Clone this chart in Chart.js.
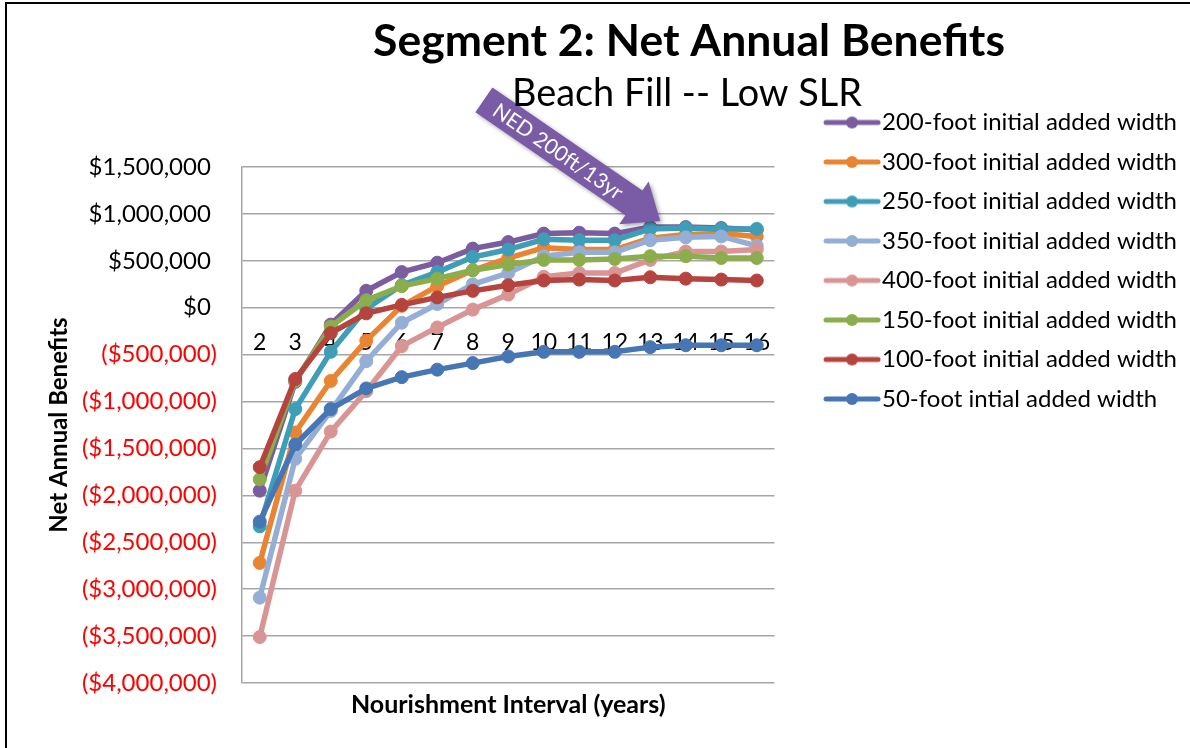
<!DOCTYPE html>
<html>
<head>
<meta charset="utf-8">
<script src="https://cdn.jsdelivr.net/npm/chart.js@4.4.1/dist/chart.umd.min.js"></script>
<style>
  html, body { margin: 0; padding: 0; background: #fff; }
  #frame { position: absolute; left: 5px; top: 2px; width: 1200px; height: 760px; border-left: 2px solid #000; border-top: 2px solid #000; }
  #wrap { position: absolute; left: 0; top: 0; width: 1190px; height: 748px; }
</style>
</head>
<body>
<div id="frame"></div>
<div id="wrap"><canvas id="chart"></canvas></div>
<script>
// nourishment interval (years)
const years = ['2', '3', '4', '5', '6', '7', '8', '9', '10', '11', '12', '13', '14', '15', '16'];

// net annual benefits ($) per initial added width
const ft200 = [-1950000, -790000, -180000, 180000, 380000, 480000, 630000, 700000, 790000, 800000, 790000, 860000, 860000, 850000, 830000];
const ft300 = [-2720000, -1330000, -780000, -350000, 20000, 230000, 400000, 530000, 640000, 620000, 620000, 740000, 780000, 790000, 760000];
const ft250 = [-2330000, -1080000, -470000, -10000, 240000, 380000, 540000, 620000, 730000, 720000, 720000, 840000, 850000, 840000, 840000];
const ft350 = [-3090000, -1610000, -1100000, -570000, -160000, 40000, 250000, 370000, 550000, 590000, 590000, 720000, 750000, 760000, 660000];
const ft400 = [-3510000, -1950000, -1320000, -890000, -410000, -210000, -20000, 140000, 330000, 370000, 370000, 510000, 600000, 600000, 620000];
const ft150 = [-1830000, -780000, -200000, 80000, 230000, 310000, 400000, 460000, 510000, 510000, 520000, 550000, 550000, 530000, 530000];
const ft100 = [-1700000, -760000, -270000, -60000, 30000, 110000, 180000, 240000, 290000, 300000, 290000, 325000, 310000, 300000, 290000];
const ft50 = [-2280000, -1460000, -1080000, -860000, -740000, -660000, -590000, -520000, -470000, -470000, -470000, -420000, -400000, -400000, -400000];

const yTicks = { min: -4000000, max: 1500000, step: 500000 };

const FONT = 'Lato';

// excel draws the last series on top, chart.js draws the first on top -> list reversed
const series = [
  { label: '50-foot intial added width', data: ft50, color: '#4677B4' },
  { label: '100-foot initial added width', data: ft100, color: '#B5443F' },
  { label: '150-foot initial added width', data: ft150, color: '#8CAD4B' },
  { label: '400-foot initial added width', data: ft400, color: '#D99594' },
  { label: '350-foot initial added width', data: ft350, color: '#94AED6' },
  { label: '250-foot initial added width', data: ft250, color: '#3E9EB8' },
  { label: '300-foot initial added width', data: ft300, color: '#E98532' },
  { label: '200-foot initial added width', data: ft200, color: '#7A5C9F' }
];

// legend swatch: short line with a dot in the middle
function makeSwatch(color) {
  const c = document.createElement('canvas');
  c.width = 110; c.height = 14;
  const g = c.getContext('2d');
  g.strokeStyle = color; g.lineWidth = 5; g.lineCap = 'round';
  g.beginPath(); g.moveTo(51, 7); g.lineTo(103, 7); g.stroke();
  g.fillStyle = color;
  g.beginPath(); g.arc(77, 7, 6, 0, Math.PI * 2); g.fill();
  return c;
}
const swatches = series.map(s => makeSwatch(s.color));

function money(v) {
  const s = '$' + Math.abs(v).toLocaleString('en-US');
  return v < 0 ? '(' + s + ')' : s + ' ';
}

function fitSize(ctx, text, weight, target) {
  ctx.font = weight + ' 40px ' + FONT;
  return 40 * target / ctx.measureText(text).width;
}

const headline = {
  id: 'headline',
  afterDraw(chart) {
    const ctx = chart.ctx;
    const xs = chart.scales.x, ys = chart.scales.y;

    // NED arrow pointing at the 200ft / 13yr point
    const i13 = years.indexOf('13');
    const tipX = xs.getPixelForValue(i13) + 10;
    const tipY = ys.getPixelForValue(ft200[i13]) - 6;
    const L = 214, body = 15, headHalf = 26, headLen = 32;
    ctx.save();
    ctx.translate(tipX, tipY);
    ctx.rotate(34.5 * Math.PI / 180);
    ctx.shadowColor = 'rgba(0,0,0,0.35)';
    ctx.shadowBlur = 4;
    ctx.shadowOffsetX = 2;
    ctx.shadowOffsetY = 2;
    ctx.fillStyle = '#7A5BA6';
    ctx.beginPath();
    ctx.moveTo(-L, -body);
    ctx.lineTo(-headLen, -body);
    ctx.lineTo(-headLen, -headHalf);
    ctx.lineTo(0, 0);
    ctx.lineTo(-headLen, headHalf);
    ctx.lineTo(-headLen, body);
    ctx.lineTo(-L, body);
    ctx.closePath();
    ctx.fill();
    ctx.shadowColor = 'transparent';
    ctx.fillStyle = '#fff';
    ctx.font = '21px ' + FONT;
    ctx.textAlign = 'left';
    ctx.textBaseline = 'middle';
    ctx.fillText('NED 200ft/13yr', -L + 14, 1);
    ctx.restore();

    // titles
    ctx.save();
    ctx.fillStyle = '#000';
    ctx.textAlign = 'center';
    ctx.textBaseline = 'alphabetic';
    const t1 = 'Segment 2: Net Annual Benefits';
    ctx.font = 'bold ' + fitSize(ctx, t1, 'bold', 632) + 'px ' + FONT;
    ctx.fillText(t1, 689, 56);
    const t2 = 'Beach Fill -- Low SLR';
    ctx.font = fitSize(ctx, t2, 'normal', 350) + 'px ' + FONT;
    ctx.fillText(t2, 687, 106);
    ctx.restore();
  }
};

new Chart(document.getElementById('chart'), {
  type: 'line',
  data: {
    labels: years,
    datasets: series.map(s => ({
      label: s.label,
      data: s.data,
      borderColor: s.color,
      backgroundColor: s.color,
      borderWidth: 5.5,
      pointRadius: 6.5,
      pointBackgroundColor: s.color,
      pointBorderColor: s.color,
      pointBorderWidth: 1,
      tension: 0,
      fill: false
    }))
  },
  options: {
    responsive: true,
    maintainAspectRatio: false,
    animation: false,
    events: [],
    layout: { padding: { left: 45, top: 95, right: 3, bottom: 0 } },
    scales: {
      x: {
        type: 'category',
        position: { y: 0 },
        offset: true,
        grid: { display: false, drawTicks: false },
        border: { display: false },
        ticks: { color: '#000', font: { family: FONT, size: 23 }, padding: 21, autoSkip: false, maxRotation: 0 },
        afterFit(s) { s.height = 0; }
      },
      xTop: {
        type: 'category',
        position: 'top',
        grid: { display: false },
        border: { display: false },
        ticks: { display: false },
        afterFit(s) { s.height = 72; }
      },
      y: {
        min: yTicks.min,
        max: yTicks.max,
        grid: { color: '#A6A6A6', lineWidth: 1.5, drawTicks: false },
        border: { color: '#A6A6A6', width: 1.5 },
        ticks: {
          stepSize: yTicks.step,
          padding: 25,
          font: { family: FONT, size: 24 },
          color: c => (c.tick && c.tick.value < 0 ? '#FF0000' : '#000'),
          callback: v => money(v)
        },
        title: {
          display: true,
          text: 'Net Annual Benefits',
          color: '#000',
          font: { family: FONT, size: 24, weight: 'bold' },
          padding: 0
        },
        afterFit(s) { s.width = 197; }
      }
    },
    plugins: {
      title: {
        display: true,
        position: 'bottom',
        fullSize: false,
        text: 'Nourishment Interval (years)',
        color: '#000',
        font: { family: FONT, size: 25, weight: 'bold' },
        padding: { top: 7, bottom: 28 }
      },
      legend: {
        position: 'right',
        align: 'start',
        reverse: true,
        maxWidth: 440,
        labels: {
          usePointStyle: true,
          pointStyleWidth: 80,
          padding: 15.5,
          color: '#000',
          font: { family: FONT, size: 24 },
          generateLabels(chart) {
            const items = Chart.defaults.plugins.legend.labels.generateLabels(chart);
            items.forEach(it => { it.pointStyle = swatches[it.datasetIndex]; });
            return items;
          }
        }
      },
      tooltip: { enabled: false }
    }
  },
  plugins: [headline]
});
</script>
</body>
</html>
